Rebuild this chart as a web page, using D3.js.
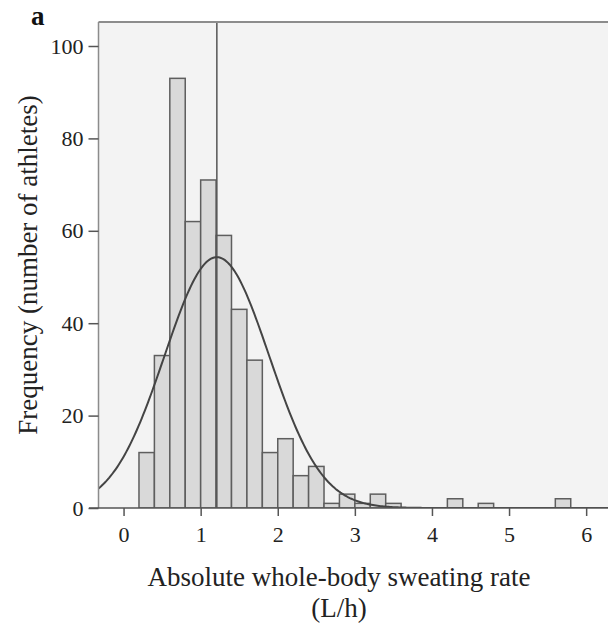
<!DOCTYPE html>
<html>
<head>
<meta charset="utf-8">
<script src="https://cdn.jsdelivr.net/npm/d3@7"></script>
<style>
  body { margin: 0; background: #fff; }
  svg { display: block; font-family: "Liberation Serif", "Times New Roman", serif; }
</style>
</head>
<body>
<svg id="chart" width="608" height="626"></svg>
<script>
// histogram bins (left edge, width 0.2 L/h) and counts
var binStart = [0.2, 0.4, 0.6, 0.8, 1.0, 1.2, 1.4, 1.6, 1.8, 2.0, 2.2, 2.4, 2.6, 2.8, 3.0, 3.2, 3.4, 4.2, 4.6, 5.6];
var binCount = [12, 33, 93, 62, 71, 59, 43, 32, 12, 15, 7, 9, 1, 3, 1, 3, 1, 2, 1, 2];
var binWidth = 0.2;
var xTicks = [0, 1, 2, 3, 4, 5, 6];
var yTicks = [0, 20, 40, 60, 80, 100];
// fitted normal curve
var fitMean = 1.21, fitSd = 0.679;

var svg = d3.select("#chart");
var pLeft = 98.5, pTop = 22, pBottom = 508, pRight = 608;

var xMin = -0.325, xMax = 6.8;
var x = d3.scaleLinear().domain([xMin, xMax]).range([pLeft, pLeft + (xMax - xMin) * 77.1]);
var y = d3.scaleLinear().domain([0, 100]).range([pBottom, 46]);

var total = d3.sum(binCount);

// plot background
svg.append("rect")
    .attr("x", pLeft).attr("y", pTop)
    .attr("width", pRight - pLeft).attr("height", pBottom - pTop)
    .attr("fill", "#f3f3f3");

svg.append("clipPath").attr("id", "plotclip")
    .append("rect").attr("x", pLeft).attr("y", pTop)
    .attr("width", pRight - pLeft).attr("height", pBottom - pTop);

var plot = svg.append("g").attr("clip-path", "url(#plotclip)");

// bars
plot.selectAll("rect.bar")
    .data(binStart)
    .enter().append("rect")
    .attr("class", "bar")
    .attr("x", function(d) { return x(d); })
    .attr("y", function(d, i) { return y(binCount[i]); })
    .attr("width", function(d) { return x(d + binWidth) - x(d); })
    .attr("height", function(d, i) { return y(0) - y(binCount[i]); })
    .attr("fill", "#d9d9d9")
    .attr("stroke", "#5e5e5e")
    .attr("stroke-width", 1.5);

// mean line
plot.append("line")
    .attr("x1", x(fitMean)).attr("x2", x(fitMean))
    .attr("y1", pTop).attr("y2", pBottom)
    .attr("stroke", "#555").attr("stroke-width", 1.5);

// normal curve scaled to counts
var curvePts = d3.range(xMin, xMax + 0.001, 0.02).map(function(v) {
    var z = (v - fitMean) / fitSd;
    var f = total * binWidth / (fitSd * Math.sqrt(2 * Math.PI)) * Math.exp(-0.5 * z * z);
    return [v, f];
});
plot.append("path")
    .datum(curvePts)
    .attr("fill", "none")
    .attr("stroke", "#444")
    .attr("stroke-width", 2)
    .attr("d", d3.line().x(function(d) { return x(d[0]); }).y(function(d) { return y(d[1]); }));

// frame
svg.append("line").attr("x1", pLeft).attr("x2", pRight).attr("y1", pTop).attr("y2", pTop)
    .attr("stroke", "#8c8c8c").attr("stroke-width", 2);
svg.append("line").attr("x1", pLeft).attr("x2", pLeft).attr("y1", pTop).attr("y2", pBottom)
    .attr("stroke", "#8c8c8c").attr("stroke-width", 1.5);

// axes
var yAxis = svg.append("g")
    .attr("transform", "translate(" + pLeft + ",0)")
    .call(d3.axisLeft(y).tickValues(yTicks).tickSize(10).tickPadding(5));
var xAxis = svg.append("g")
    .attr("transform", "translate(0," + pBottom + ")")
    .call(d3.axisBottom(x).tickValues(xTicks).tickSize(8).tickPadding(10));

[yAxis, xAxis].forEach(function(a) {
    a.select(".domain").remove();
    a.selectAll(".tick line").attr("stroke", "#555").attr("stroke-width", 1.5);
    a.selectAll(".tick text").attr("fill", "#222")
        .style("font-size", "22px").style("font-family", "Liberation Serif, serif");
});

svg.append("line").attr("x1", 89).attr("x2", pRight).attr("y1", pBottom).attr("y2", pBottom)
    .attr("stroke", "#555").attr("stroke-width", 1.5);

// titles
svg.append("text")
    .attr("transform", "translate(37,265) rotate(-90)")
    .attr("text-anchor", "middle")
    .attr("fill", "#222")
    .style("font-size", "27px")
    .text("Frequency (number of athletes)");

svg.append("text")
    .attr("x", 339).attr("y", 585.5)
    .attr("text-anchor", "middle")
    .attr("fill", "#222")
    .style("font-size", "27px")
    .text("Absolute whole-body sweating rate");
svg.append("text")
    .attr("x", 339).attr("y", 616.5)
    .attr("text-anchor", "middle")
    .attr("fill", "#222")
    .style("font-size", "27px")
    .text("(L/h)");

svg.append("text")
    .attr("x", 31).attr("y", 25)
    .attr("fill", "#111")
    .style("font-size", "27px")
    .style("font-weight", "bold")
    .text("a");
</script>
</body>
</html>
